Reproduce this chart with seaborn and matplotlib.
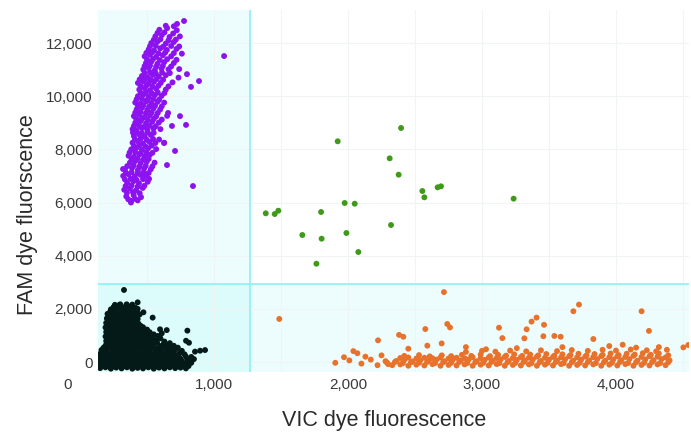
import numpy as np
import pandas as pd
import matplotlib
matplotlib.use('Agg')
import matplotlib.pyplot as plt
import matplotlib.ticker as mticker
import seaborn as sns

# droplet amplitudes (VIC, FAM)
purple_pts = [
    (380, 6000), (430, 6080), (345, 6230), (400, 6280), (455, 6200),
    (330, 6480), (372, 6530), (418, 6460), (468, 6550),
    (352, 6740), (398, 6800), (440, 6720), (505, 6780),
    (322, 7000), (362, 7060), (408, 6980), (452, 7040), (492, 7010),
    (335, 7240), (388, 7300), (432, 7220), (478, 7280), (528, 7250),
    (372, 7500), (412, 7560), (452, 7480), (498, 7540), (556, 7500),
    (362, 7760), (402, 7720), (442, 7800), (482, 7740), (520, 7790),
    (382, 8000), (422, 8060), (462, 7980), (508, 8040), (568, 8010),
    (392, 8250), (432, 8300), (470, 8220), (518, 8280), (562, 8240), (628, 8250),
    (402, 8500), (442, 8560), (482, 8480), (528, 8540),
    (392, 8760), (422, 8720), (462, 8800), (502, 8740), (548, 8780), (600, 8760),
    (412, 9000), (452, 9060), (492, 8980), (538, 9040), (588, 9010),
    (402, 9250), (442, 9300), (482, 9220), (522, 9280), (568, 9240), (650, 9260),
    (422, 9500), (462, 9560), (502, 9480), (548, 9540), (598, 9500),
    (412, 9760), (452, 9720), (492, 9800), (532, 9740), (578, 9790), (628, 9760),
    (432, 10000), (472, 10060), (512, 9980), (558, 10040), (608, 10010),
    (442, 10250), (482, 10300), (522, 10220), (568, 10280), (640, 10250),
    (432, 10500), (472, 10560), (512, 10480), (552, 10540), (602, 10500), (690, 10520),
    (462, 10760), (502, 10720), (542, 10800), (588, 10740), (640, 10790), (735, 10700),
    (472, 11000), (512, 11060), (558, 10980), (608, 11040), (660, 11010), (740, 11020),
    (492, 11250), (532, 11300), (578, 11220), (628, 11280), (700, 11250),
    (482, 11500), (522, 11560), (568, 11480), (618, 11540), (680, 11500), (760, 11600),
    (512, 11760), (552, 11720), (598, 11800), (648, 11740), (720, 11780),
    (532, 12000), (578, 12060), (640, 11980), (700, 12040),
    (562, 12250), (610, 12300), (668, 12230), (745, 12250),
    (592, 12500), (650, 12560), (722, 12480),
    (776, 12830), (724, 12720),
    (360, 6120), (410, 6140),
    (350, 6370), (395, 6390), (445, 6350),
    (340, 6620), (385, 6640), (430, 6600), (480, 6630),
    (335, 6870), (378, 6890), (422, 6850), (470, 6880),
    (342, 7120), (385, 7140), (430, 7100), (472, 7130), (512, 7110),
    (352, 7370), (400, 7390), (442, 7350), (490, 7380), (540, 7360),
    (385, 7630), (428, 7650), (470, 7610), (512, 7640),
    (370, 7880), (412, 7900), (452, 7860), (495, 7890), (540, 7870),
    (402, 8130), (442, 8150), (488, 8110), (535, 8140),
    (410, 8380), (452, 8400), (498, 8360), (545, 8390), (590, 8370),
    (395, 8630), (422, 8650), (462, 8610), (505, 8640), (550, 8620),
    (402, 8880), (440, 8900), (480, 8860), (520, 8890), (565, 8870),
    (420, 9130), (462, 9150), (505, 9110), (550, 9140), (610, 9120),
    (412, 9380), (452, 9400), (492, 9360), (535, 9390), (580, 9370),
    (432, 9630), (472, 9650), (515, 9610), (560, 9640), (610, 9620),
    (422, 9880), (462, 9900), (502, 9860), (545, 9890), (590, 9870),
    (452, 10130), (492, 10150), (535, 10110), (580, 10140), (630, 10120),
    (452, 10380), (495, 10400), (540, 10360), (585, 10390), (660, 10370),
    (445, 10630), (488, 10650), (528, 10610), (570, 10640), (620, 10620),
    (482, 10880), (522, 10900), (565, 10860), (612, 10890), (670, 10870),
    (482, 11130), (522, 11150), (568, 11110), (618, 11140), (680, 11120),
    (500, 11380), (545, 11400), (595, 11360), (650, 11390), (720, 11370),
    (495, 11630), (538, 11650), (585, 11610), (635, 11640), (700, 11620),
    (522, 11880), (565, 11900), (620, 11860), (680, 11890), (740, 11870),
    (550, 12120), (600, 12140), (660, 12100), (715, 12130),
    (578, 12380), (630, 12400), (695, 12360),
    (640, 12650), (700, 12630),
    (1075, 11510), (843, 6620), (888, 10570), (828, 10350), (798, 10830),
    (791, 8920), (746, 9250), (709, 7940), (649, 7410), (515, 6890),
    (686, 8880), (657, 9370), (627, 8240), (381, 6060), (321, 7260),
]

black_pts = [
    (150, -230), (190, -200), (230, -250), (270, -210), (310, -240), (350, -200),
    (390, -250), (430, -220), (470, -240), (510, -200), (550, -250), (590, -210),
    (630, -240), (670, -200), (710, -230), (750, -210), (790, -240),
    (170, -145), (210, -125), (250, -165), (290, -135), (330, -155), (370, -125),
    (410, -165), (450, -135), (490, -155), (530, -125), (570, -165), (610, -135),
    (650, -155), (690, -125), (730, -160), (770, -135), (810, -150),
    (140, -60), (180, -40), (220, -80), (260, -50), (300, -70), (340, -40),
    (380, -80), (420, -50), (460, -70), (500, -40), (540, -80), (580, -50),
    (620, -70), (660, -40), (700, -80), (740, -50), (780, -60), (830, -30),
    (160, 25), (200, 45), (240, 5), (280, 35), (320, 15), (360, 45),
    (400, 5), (440, 35), (480, 15), (520, 45), (560, 5), (600, 35),
    (640, 15), (680, 45), (720, 5), (760, 35), (810, 20),
    (150, 110), (190, 130), (230, 90), (270, 120), (310, 100), (350, 130),
    (390, 90), (430, 120), (470, 100), (510, 130), (550, 90), (590, 120),
    (630, 100), (670, 130), (710, 90), (750, 120), (800, 100), (850, 110),
    (165, 195), (205, 215), (245, 175), (285, 205), (325, 185), (365, 215),
    (405, 175), (445, 205), (485, 185), (525, 215), (565, 175), (605, 205),
    (645, 185), (690, 215), (740, 175), (790, 205), (830, 190),
    (140, 280), (180, 300), (220, 260), (260, 290), (300, 270), (340, 300),
    (380, 260), (420, 290), (460, 270), (500, 300), (540, 260), (580, 290),
    (620, 270), (670, 300), (720, 260), (780, 290),
    (160, 365), (200, 385), (240, 345), (280, 375), (320, 355), (360, 385),
    (400, 345), (440, 375), (480, 355), (520, 385), (560, 345), (600, 375),
    (645, 355), (695, 385), (745, 350),
    (160, 450), (200, 470), (240, 430), (280, 460), (320, 440), (360, 470),
    (400, 430), (440, 460), (480, 440), (520, 470), (560, 430), (610, 460),
    (660, 440), (710, 470), (760, 420),
    (175, 535), (215, 555), (255, 515), (295, 545), (335, 525), (375, 555),
    (415, 515), (455, 545), (495, 525), (535, 555), (580, 515), (630, 545),
    (680, 525), (730, 540),
    (190, 620), (230, 640), (270, 600), (310, 630), (350, 610), (390, 640),
    (430, 600), (470, 630), (510, 610), (550, 640), (600, 600), (650, 630), (700, 610),
    (210, 705), (250, 725), (290, 685), (330, 715), (370, 695), (410, 725),
    (450, 685), (490, 715), (530, 695), (575, 725), (625, 685), (670, 710),
    (195, 790), (235, 810), (275, 770), (315, 800), (355, 780), (395, 810),
    (435, 770), (475, 800), (520, 780), (570, 810), (630, 770),
    (210, 875), (250, 895), (290, 855), (330, 885), (370, 865), (410, 895),
    (450, 855), (495, 885), (545, 865), (600, 890),
    (190, 960), (230, 980), (270, 940), (310, 970), (350, 950), (390, 980),
    (430, 940), (470, 970), (520, 950), (580, 980),
    (210, 1045), (250, 1065), (290, 1025), (330, 1055), (370, 1035), (410, 1065),
    (450, 1025), (495, 1055), (550, 1040),
    (195, 1130), (235, 1150), (275, 1110), (315, 1140), (355, 1120), (395, 1150),
    (435, 1110), (480, 1140), (520, 1120),
    (210, 1215), (250, 1235), (290, 1195), (330, 1225), (370, 1205), (410, 1235),
    (455, 1195), (500, 1220),
    (190, 1300), (230, 1320), (270, 1280), (310, 1310), (350, 1290), (390, 1320),
    (430, 1280), (470, 1310),
    (210, 1385), (250, 1405), (290, 1365), (330, 1395), (370, 1375), (410, 1405), (450, 1370),
    (195, 1470), (235, 1490), (275, 1450), (315, 1480), (355, 1460), (395, 1490), (435, 1450),
    (215, 1555), (255, 1575), (295, 1535), (335, 1565), (375, 1545), (415, 1570),
    (200, 1640), (240, 1660), (280, 1620), (320, 1650), (360, 1630), (400, 1660), (430, 1620),
    (220, 1725), (260, 1745), (300, 1705), (340, 1735), (380, 1715), (420, 1740),
    (205, 1810), (245, 1830), (285, 1790), (325, 1820), (365, 1800), (405, 1830), (445, 1790),
    (225, 1895), (265, 1915), (305, 1875), (345, 1905), (385, 1885), (425, 1910),
    (230, 1980), (270, 2000), (310, 1960), (350, 1990), (390, 1970), (430, 2000),
    (250, 2065), (290, 2085), (330, 2045), (370, 2075), (410, 2055),
    (260, 2150), (300, 2170), (345, 2130), (390, 2160),
    (328, 2710), (430, 2245), (293, 2145), (348, 2170), (542, 1670), (473, 1870),
    (597, 1230), (647, 1200), (610, 1080), (801, 1180), (791, 800), (813, 725),
    (933, 450), (896, 425), (858, 390), (833, 50),
]

green_pts = [
    (2396, 8804), (1923, 8303), (2311, 7663), (2378, 7047), (2555, 6433),
    (2570, 6196), (2669, 6572), (2694, 6610), (3236, 6145), (1386, 5594),
    (1453, 5568), (1480, 5692), (1799, 5643), (1975, 5982), (2050, 5956),
    (1659, 4778), (1803, 4639), (1988, 4853), (2321, 5154), (2077, 4138),
    (1764, 3698),
]

orange_pts = [
    (1905, -30), (1970, 180), (2040, 410), (2070, 330), (2010, 60), (2100, -60),
    (2130, 200), (2170, 90), (2220, -120), (2250, 250), (2280, 30), (2300, -80),
    (1487, 1620), (2716, 2630), (2741, 1430), (2761, 1300), (2577, 1240),
    (2381, 1020), (2413, 950), (2224, 815), (2592, 615), (2699, 700),
    (3127, 1290), (3152, 900), (3333, 1230), (3370, 1520), (3407, 1670),
    (3463, 1400), (3316, 890), (3458, 970), (3540, 980), (3587, 950),
    (3682, 1910), (3724, 2160), (4191, 1910), (4246, 1170), (3831, 865),
    (4503, 550), (4540, 640),
    (2450, 500), (2880, 560), (3030, 480), (3260, 520), (3600, 560),
    (3950, 600), (4050, 650), (4150, 540), (4320, 560), (4380, 460),
    (2330, -120), (2390, -90), (2450, -140), (2510, -100), (2570, -130), (2630, -80),
    (2690, -140), (2750, -110), (2810, -130), (2870, -90), (2930, -140), (2990, -100),
    (3050, -130), (3110, -80), (3170, -140), (3230, -110), (3290, -130), (3350, -90),
    (3410, -140), (3470, -100), (3530, -130), (3590, -80), (3650, -140), (3710, -110),
    (3770, -130), (3830, -90), (3890, -140), (3950, -100), (4010, -130), (4070, -80),
    (4130, -140), (4190, -110), (4250, -130), (4310, -90), (4370, -120),
    (2290, -20), (2350, 0), (2410, -40), (2470, -10), (2530, -30), (2590, 0),
    (2650, -40), (2710, -10), (2770, -30), (2830, 0), (2890, -40), (2950, -10),
    (3010, -30), (3070, 0), (3130, -40), (3190, -10), (3250, -30), (3310, 0),
    (3370, -40), (3430, -10), (3490, -30), (3550, 0), (3610, -40), (3670, -10),
    (3730, -30), (3790, 0), (3850, -40), (3910, -10), (3970, -30), (4030, 0),
    (4090, -40), (4150, -10), (4210, -30), (4270, 0), (4330, -40), (4390, -10),
    (2360, 40), (2420, 80), (2480, 20), (2540, 70), (2600, 40), (2660, 90),
    (2720, 30), (2780, 70), (2840, 50), (2900, 90), (2960, 30), (3020, 80),
    (3080, 50), (3140, 100), (3200, 40), (3260, 80), (3320, 60), (3380, 100),
    (3440, 40), (3500, 90), (3560, 60), (3620, 100), (3680, 50), (3740, 90),
    (3800, 60), (3860, 110), (3920, 50), (3980, 100), (4040, 70), (4100, 110),
    (4160, 50), (4220, 100), (4280, 70), (4340, 110), (4400, 60),
    (2390, 150), (2450, 170), (2510, 130), (2570, 160), (2630, 140), (2690, 170),
    (2750, 130), (2810, 160), (2870, 140), (2930, 180), (2990, 140), (3050, 170),
    (3110, 150), (3170, 190), (3230, 150), (3290, 180), (3350, 160), (3410, 200),
    (3470, 160), (3530, 190), (3590, 170), (3650, 210), (3710, 170), (3770, 200),
    (3830, 180), (3890, 220), (3950, 180), (4010, 210), (4070, 190), (4130, 230),
    (4190, 190), (4250, 220), (4310, 200), (4370, 170),
    (2420, 230), (2530, 260), (2610, 210), (2700, 250), (2770, 220), (2850, 270),
    (2920, 230), (2990, 280), (3060, 220), (3120, 270), (3180, 240), (3240, 290),
    (3300, 230), (3360, 280), (3420, 250), (3480, 300), (3540, 240), (3600, 290),
    (3660, 260), (3720, 310), (3780, 250), (3840, 300), (3900, 270), (3960, 320),
    (4020, 260), (4080, 310), (4140, 280), (4200, 330), (4260, 270), (4320, 320),
    (4390, 250),
    (2880, 380), (3000, 420), (3100, 390), (3210, 430), (3330, 400), (3440, 440),
    (3560, 410), (3670, 450), (3790, 420), (3900, 460), (4000, 430), (4110, 470),
    (4230, 440), (4300, 400),
]

vic_threshold = 1269
fam_threshold = 2953
x_ticks = [1000, 2000, 3000, 4000]
y_ticks = [0, 2000, 4000, 6000, 8000, 10000, 12000]

colors = {'FAM+': '#8c12f0', 'neg': '#031a18', 'both': '#3f9a1a', 'VIC+': '#e8722c'}

frames = []
for name, pts in [('FAM+', purple_pts), ('neg', black_pts), ('both', green_pts), ('VIC+', orange_pts)]:
    d = pd.DataFrame(pts, columns=['VIC', 'FAM'])
    d['cluster'] = name
    frames.append(d)
df = pd.concat(frames, ignore_index=True)

sns.set_theme(style='white')
plt.rcParams['font.family'] = ['Liberation Sans', 'DejaVu Sans']

fig = plt.figure(figsize=(6.91, 4.32), dpi=100)
ax = fig.add_axes([98 / 691, 60 / 432, 591 / 691, 362 / 432])
ax.set_xlim(134, 4545)
ax.set_ylim(-376, 13243)

# quadrant shading + thresholds
ax.axvspan(134, vic_threshold, color='#00f0f0', alpha=0.07, lw=0, zorder=0)
ax.axhspan(-376, fam_threshold, color='#00f0f0', alpha=0.07, lw=0, zorder=0)
ax.axvline(vic_threshold, color='#8ef0f2', lw=1.2, zorder=1)
ax.axhline(fam_threshold, color='#8ef0f2', lw=1.2, zorder=1)

sns.scatterplot(data=df, x='VIC', y='FAM', hue='cluster', palette=colors,
                s=18, linewidth=0, alpha=1, legend=False, ax=ax, zorder=3)

ax.set_xticks(x_ticks)
ax.xaxis.set_minor_locator(mticker.MultipleLocator(500))
ax.set_yticks(y_ticks)
ax.xaxis.set_major_formatter(mticker.StrMethodFormatter('{x:,.0f}'))
ax.yaxis.set_major_formatter(mticker.StrMethodFormatter('{x:,.0f}'))
ax.grid(True, which='both', color='#f0f4f4', lw=0.8, zorder=0)
ax.set_axisbelow(True)
for s in ax.spines.values():
    s.set_visible(False)
ax.tick_params(axis='both', which='both', length=0, labelsize=11, colors='#3a3a3a')
ax.tick_params(axis='x', pad=4)
ax.tick_params(axis='y', pad=4)

# origin label of the x axis sits left of the panel
ax.annotate('0', xy=(0, 0), xycoords=('data', 'axes fraction'), xytext=(-9, -4),
            textcoords='offset points', ha='center', va='top', fontsize=11, color='#3a3a3a')

ax.set_xlabel('VIC dye fluorescence', fontsize=15.5, color='#2a2a2a', va='center')
ax.xaxis.set_label_coords(0.484, -0.133)
ax.set_ylabel('FAM dye fluorscence', fontsize=15.5, color='#2a2a2a', va='center')
ax.yaxis.set_label_coords(-0.120, 0.434)

fig.savefig('out.png', dpi=100)
